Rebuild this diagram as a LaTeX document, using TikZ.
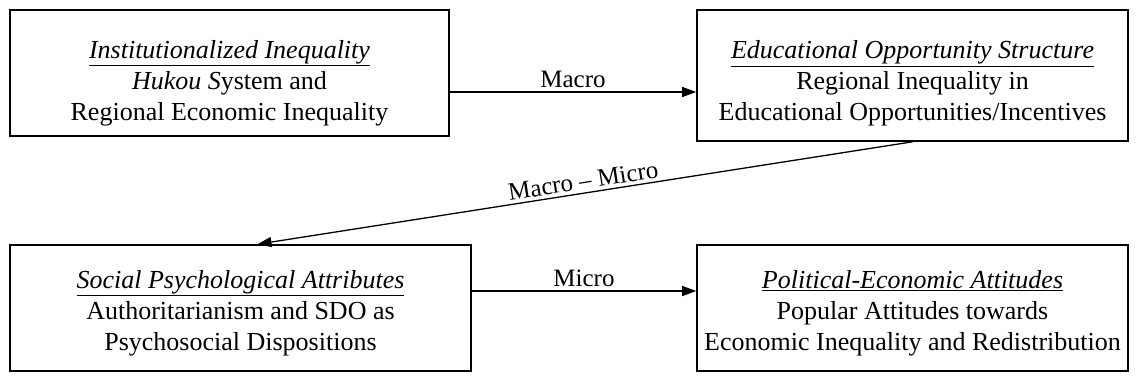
\documentclass[tikz,border=0pt]{standalone}
\usepackage{fontspec}
\setmainfont{Liberation Serif}
\usetikzlibrary{arrows.meta}
\begin{document}
\begin{tikzpicture}
			[x=1pt,y=-1pt,
			box/.style={draw,line width=1.6pt,minimum width=439pt,
				minimum height=126pt,align=center,text height=100pt,
				font=\fontsize{26}{31}\selectfont},
			link/.style={-{Triangle[length=14pt,width=10pt]},line width=1.3pt},
			lab/.style={font=\fontsize{25}{28}\selectfont}]
			\useasboundingbox (0,0) rectangle (1139,381);
			\node[box] (inst) at (229.5,73)
				{\underline{\textit{Institutionalized Inequality}}\\
				\textit{Hukou S}ystem and\\
				Regional Economic Inequality};
			\node[box,minimum width=431pt,minimum height=131pt,text height=96pt] (edu) at (912.5,75.5)
				{\underline{\textit{Educational Opportunity Structure}}\\
				Regional Inequality in\\
				Educational Opportunities/Incentives};
			\node[box,minimum width=461pt,text height=90pt] (soc) at (240.5,308)
				{\underline{\textit{Social Psychological Attributes}}\\
				Authoritarianism and SDO as\\
				Psychosocial Dispositions};
			\node[box,minimum width=431pt,text height=90pt] (pol) at (912.5,308)
				{\underline{\textit{Political-Economic Attitudes}}\\
				Popular Attitudes towards\\
				Economic Inequality and Redistribution};
			\draw[link] ([yshift=-19pt]inst.east) -- node[above,lab] {Macro}
				([yshift=-19pt]inst.east -| edu.west);
			\draw[link] (edu.south) -- node[above,sloped,lab] {Macro -- Micro}
				([xshift=17pt]soc.north);
			\draw[link] ([yshift=17pt]soc.east) -- node[above,lab] {Micro}
				([yshift=17pt]soc.east -| pol.west);
		\end{tikzpicture}
\end{document}
